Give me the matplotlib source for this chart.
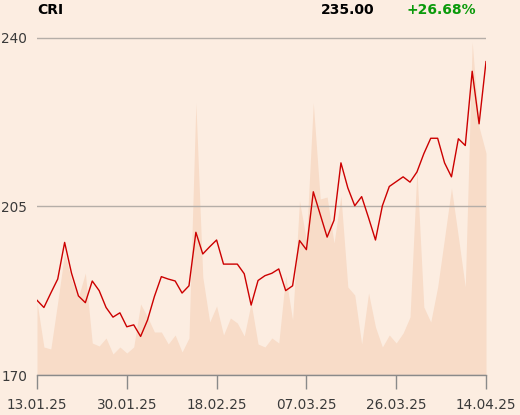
import numpy as np
import matplotlib
matplotlib.use("Agg")
import matplotlib.pyplot as plt

# daily closes, 13.01.25 .. 14.04.25 (trading days)
close = [185.5, 184.0, 187.0, 189.9, 197.5, 191.1, 186.4, 185.0, 189.5, 187.5,
         184.0, 182.0, 182.9, 180.0, 180.4, 178.0, 181.4, 186.3, 190.4, 189.9,
         189.5, 187.0, 188.5, 199.6, 195.1, 196.6, 198.0, 193.0, 193.0, 193.0,
         191.0, 184.5, 189.6, 190.6, 191.1, 192.0, 187.5, 188.5, 197.9, 196.0,
         208.0, 203.3, 198.6, 202.1, 214.0, 208.8, 205.1, 207.0, 202.6, 198.0,
         205.1, 209.1, 210.1, 211.1, 210.0, 212.1, 215.9, 219.1, 219.1, 214.0,
         211.1, 219.0, 217.6, 233.0, 222.1, 235.0]

# volume (thousand shares)
volume = [73, 28, 26, 73, 122, 95, 78, 102, 32, 29,
          37, 21, 28, 22, 28, 71, 58, 43, 43, 31,
          40, 23, 37, 272, 98, 53, 69, 40, 57, 52,
          39, 72, 31, 28, 37, 32, 99, 55, 174, 135,
          272, 176, 178, 132, 179, 88, 80, 31, 82, 48,
          28, 40, 32, 42, 58, 205, 68, 53, 88, 137,
          187, 138, 88, 333, 248, 222]

tick_idx = [0, 13, 26, 39, 52, 65]
tick_lbl = ["13.01.25", "30.01.25", "18.02.25", "07.03.25", "26.03.25", "14.04.25"]
y_ticks = [170, 205, 240]

ticker = "CRI"
last = close[-1]
chg = (close[-1] / close[0] - 1) * 100

BG = "#FCEDE1"
AREA = "#F8DCC8"
LINE = "#CC0000"
GRID = "#B5AEA8"
TXT = "#3A3A3A"
GREEN = "#0A9A0A"

x = np.arange(len(close))

fig = plt.figure(figsize=(5.2, 4.15), dpi=100, facecolor=BG)
ax = fig.add_axes([37 / 520, 1 - 375 / 415, 449 / 520, 337.5 / 415])
ax2 = ax.twinx()

ax2.fill_between(x, volume, 0, color=AREA, lw=0)
ax2.set_ylim(0, 337.5)
ax2.set_yticks([])
for sp in ax2.spines.values():
    sp.set_visible(False)

ax.set_zorder(ax2.get_zorder() + 1)
ax.patch.set_visible(False)
ax2.set_facecolor(BG)

ax.plot(x, close, color=LINE, lw=1.0, zorder=3)
ax.set_xlim(0, len(close) - 1)
ax.set_ylim(170, 240)
ax.set_yticks(y_ticks)
ax.grid(axis="y", color=GRID, lw=1)
ax.set_xticks(tick_idx)
ax.set_xticklabels(tick_lbl)
ax.tick_params(axis="x", length=10, width=1, color="#8A8A8A", pad=6.5,
               labelsize=9.8, labelcolor=TXT)
ax.tick_params(axis="y", length=0, pad=7, labelsize=9.8, labelcolor=TXT)
for s in ["top", "right", "left"]:
    ax.spines[s].set_visible(False)
ax.spines["bottom"].set_color("#8A8A8A")
ax.spines["bottom"].set_linewidth(1)

fig.text(37 / 520, 1 - 10 / 415, ticker, ha="left", va="center",
         fontsize=10, fontweight="bold", color="black")
fig.text(374 / 520, 1 - 10 / 415, f"{last:.2f}", ha="right", va="center",
         fontsize=10, fontweight="bold", color="black")
fig.text(407 / 520, 1 - 10 / 415, f"+{chg:.2f}%", ha="left", va="center",
         fontsize=10, fontweight="bold", color=GREEN)

fig.savefig("out.png", dpi=100, facecolor=BG)
